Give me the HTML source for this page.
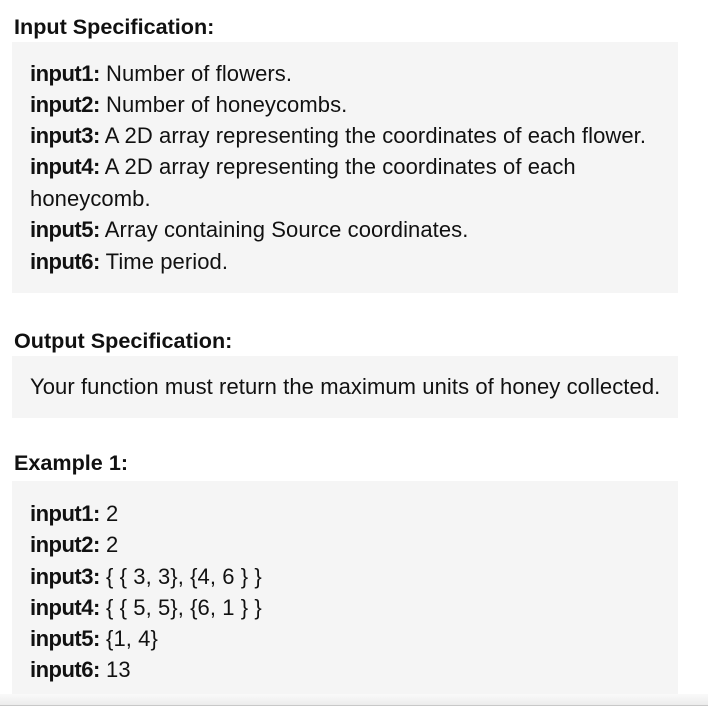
<!DOCTYPE html>
<html><head><meta charset="utf-8"><style>
html,body{margin:0;padding:0;background:#fff;width:708px;height:708px;overflow:hidden;position:relative;font-family:"Liberation Sans",Arial,sans-serif;color:#111;}
.h{position:absolute;left:14px;font-weight:bold;font-size:21.6px;line-height:24px;}
.box{position:absolute;left:12px;width:666px;background:#f5f5f5;}
.l{position:absolute;left:30px;font-size:22px;line-height:24px;white-space:nowrap;letter-spacing:0.08px;}
b{font-weight:bold;letter-spacing:-0.5px;}
.bar{position:absolute;left:0;top:694px;width:708px;height:11px;background:linear-gradient(#fafafa,#ececec);border-bottom:1px solid #c8c8c8;}
</style></head><body>
<div class="h" style="top:15px">Input Specification:</div>
<div class="box" style="top:42px;height:251px"></div>
<div class="l" style="top:62px"><b>input1:</b> Number of flowers.</div>
<div class="l" style="top:93px"><b>input2:</b> Number of honeycombs.</div>
<div class="l" style="top:124px"><b>input3:</b> A 2D array representing the coordinates of each flower.</div>
<div class="l" style="top:155px"><b>input4:</b> A 2D array representing the coordinates of each</div>
<div class="l" style="top:187px">honeycomb.</div>
<div class="l" style="top:218px"><b>input5:</b> Array containing Source coordinates.</div>
<div class="l" style="top:250px"><b>input6:</b> Time period.</div>

<div class="h" style="top:329px">Output Specification:</div>
<div class="box" style="top:356px;height:62px"></div>
<div class="l" style="top:375px">Your function must return the maximum units of honey collected.</div>

<div class="h" style="top:451px">Example 1:</div>
<div class="box" style="top:481px;height:213px"></div>
<div class="l" style="top:502px"><b>input1:</b> 2</div>
<div class="l" style="top:533px"><b>input2:</b> 2</div>
<div class="l" style="top:565px"><b>input3:</b> { { 3, 3}, {4, 6 } }</div>
<div class="l" style="top:596px"><b>input4:</b> { { 5, 5}, {6, 1 } }</div>
<div class="l" style="top:627px"><b>input5:</b> {1, 4}</div>
<div class="l" style="top:658px"><b>input6:</b> 13</div>
<div class="bar"></div>
</body></html>
